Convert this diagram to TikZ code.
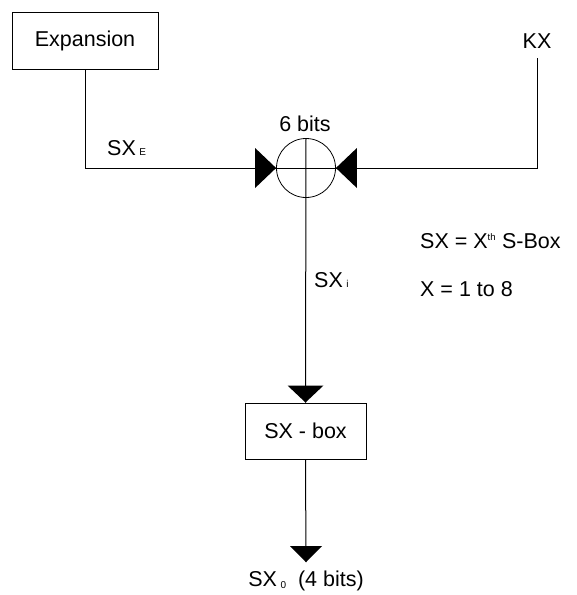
\documentclass[tikz,border=0pt]{standalone}
\usepackage{fontspec}
\setmainfont{Liberation Sans}
\begin{document}
\begin{tikzpicture}[x=1pt,y=-1pt,
  every node/.style={font=\fontsize{21.5}{25}\selectfont, inner sep=0pt},
  boxnode/.style={draw, line width=1pt, rectangle},
  wire/.style={line width=1pt}]
\useasboundingbox (0,0) rectangle (577,595);
\node[boxnode, minimum width=146pt, minimum height=57pt] (exp) at (85,40.5) {Expansion};
\node (kx) at (537,41) {KX};
\coordinate (kxs) at (537,58);
\node[draw, circle, line width=0.8pt, minimum size=59pt] (circ) at (306,168) {};
\node[boxnode, minimum width=121pt, minimum height=56pt] (sbox) at (305.5,431) {SX - box};
\node (sixbits) at (305,124) {6 bits};
\node[anchor=base west] (sxe) at (107,155) {SX\,{\fontsize{10}{10}\selectfont E}};
\node[anchor=base west] (sxi) at (314,287) {SX\,{\fontsize{10}{10}\selectfont i}};
\node[anchor=base west] (def1) at (420,248) {SX = X\textsuperscript{\fontsize{9.5}{9.5}\selectfont th} S-Box};
\node[anchor=base west] (def2) at (420,296) {X = 1 to 8};
\node[anchor=base] (sxo) at (306,586) {SX\,{\fontsize{10}{10}\selectfont \raisebox{-2pt}{0}}\ \ (4 bits)};
\coordinate (otip) at (306,562);
% wires
\draw[wire] (exp.south) |- (circ.west);
\draw[wire] (kxs) |- (circ.east);
\draw[wire] (circ.west) -- (circ.east);
\draw[wire] (circ.north) -- (sbox.north);
\draw[wire] (sbox.south) -- (otip);
% arrowheads
\fill (circ.west) -- ++(-21,-20) -- ++(0,40) -- cycle;
\fill (circ.east) -- ++(21,-20) -- ++(0,40) -- cycle;
\fill (sbox.north) -- ++(-18,-17) -- ++(36,0) -- cycle;
\fill (otip) -- ++(-16,-16) -- ++(32,0) -- cycle;
\end{tikzpicture}
\end{document}
